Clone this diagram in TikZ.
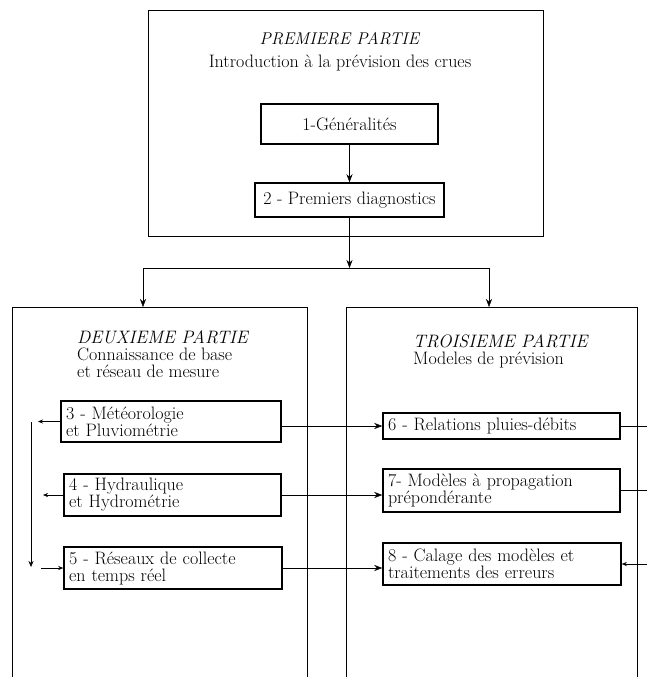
\documentclass[tikz,border=0pt]{standalone}
\usetikzlibrary{arrows.meta,fit}
\tikzset{
  cadre/.style={line width=1pt},
  boite/.style={draw, line width=1.5pt, inner xsep=5pt, inner ysep=2pt, align=left},
  petite/.style={-{Stealth[length=5pt,width=4pt]}}
}
\begin{document}
\begin{tikzpicture}[x=1pt,y=-1pt,>={Stealth[length=8pt,width=6pt]},
    every node/.style={font=\fontsize{18}{17}\selectfont}]
    \useasboundingbox (0,0) rectangle (647,677);

    % Premiere partie
    \node[cadre, draw, inner sep=0pt, fit={(148,11) (543,236)}] (p1) {};
    \node[anchor=base, font=\fontsize{17}{16}\selectfont] (t1) at (340,45) {\textit{PREMIERE PARTIE}};
    \node[anchor=base] (t2) at (340,67) {Introduction à la prévision des crues};
    \node[boite, align=center, minimum width=177pt, minimum height=40pt] (b1) at (349.5,124) {1-Généralités};
    \node[boite, align=center, minimum width=189pt, minimum height=34pt] (b2) at (349.5,200) {2 - Premiers diagnostics};
    \draw[->] (b1) -- (b2);

    % Branchement
    \coordinate (j) at (349.5,268);
    \coordinate (jl) at (143,268);
    \coordinate (jr) at (489,268);
    \coordinate (f2) at (143,307);
    \coordinate (f3) at (489,307);
    \draw[->] (b2) -- (j);
    \draw (jl) -- (jr);
    \draw[->] (jl) -- (f2);
    \draw[->] (jr) -- (f3);

    % Deuxieme partie
    \draw[cadre] (12,677) -- (12,307) -- (307,307) -- (307,677);
    \node[anchor=north west, inner sep=0pt, align=left] (h2) at (77,330)
        {\textit{DEUXIEME PARTIE}\\Connaissance de base\\et réseau de mesure};
    \node[boite, text width=210pt, minimum height=41pt] (b3) at (171,421.5) {3 - Météorologie\\et Pluviométrie};
    \node[boite, text width=207pt, minimum height=42pt] (b4) at (172.5,495) {4 - Hydraulique\\et Hydrométrie};
    \node[boite, text width=208pt, minimum height=42pt] (b5) at (173,568) {5 - Réseaux de collecte\\en temps réel};

    % Troisieme partie
    \draw[cadre] (346,677) -- (346,307) -- (637,307) -- (637,677);
    \node[anchor=north west, inner sep=0pt, align=left] (h3) at (413,334)
        {\textit{TROISIEME PARTIE}\\Modeles de prévision};
    \node[boite, text width=227pt, minimum height=26pt] (b6) at (501.5,426) {6 - Relations pluies-débits};
    \node[boite, text width=227pt, minimum height=43pt] (b7) at (501.5,490.5) {7- Modèles à propagation\\prépondérante};
    \node[boite, text width=228pt, minimum height=42pt] (b8) at (502,564) {8 - Calage des modèles et\\traitements des erreurs};

    % Liaisons a gauche
    \coordinate (g3) at (38,421.5);
    \coordinate (g4) at (43,495);
    \coordinate (g5) at (41,568);
    \coordinate (v1) at (31,422);
    \coordinate (v2) at (31,567);
    \draw[petite] (b3.west) -- (g3);
    \draw[petite] (b4.west) -- (g4);
    \draw[petite] (g5) -- (b5.west);
    \draw[-{Stealth[length=6pt,width=5pt]}] (v1) -- (v2);

    % Liaisons entre parties
    \draw[->] (b3.east |- b6) -- (b6.west);
    \draw[->] (b4.east) -- (b4.east -| b7.west);
    \draw[->] (b5.east) -- (b5.east -| b8.west);

    % Liaisons a droite
    \coordinate (e6) at (647,426);
    \coordinate (e7) at (647,490.5);
    \coordinate (e8) at (647,564);
    \draw (b6.east) -- (e6);
    \draw (b7.east) -- (e7);
    \draw[petite] (e8) -- (b8.east);
\end{tikzpicture}
\end{document}
